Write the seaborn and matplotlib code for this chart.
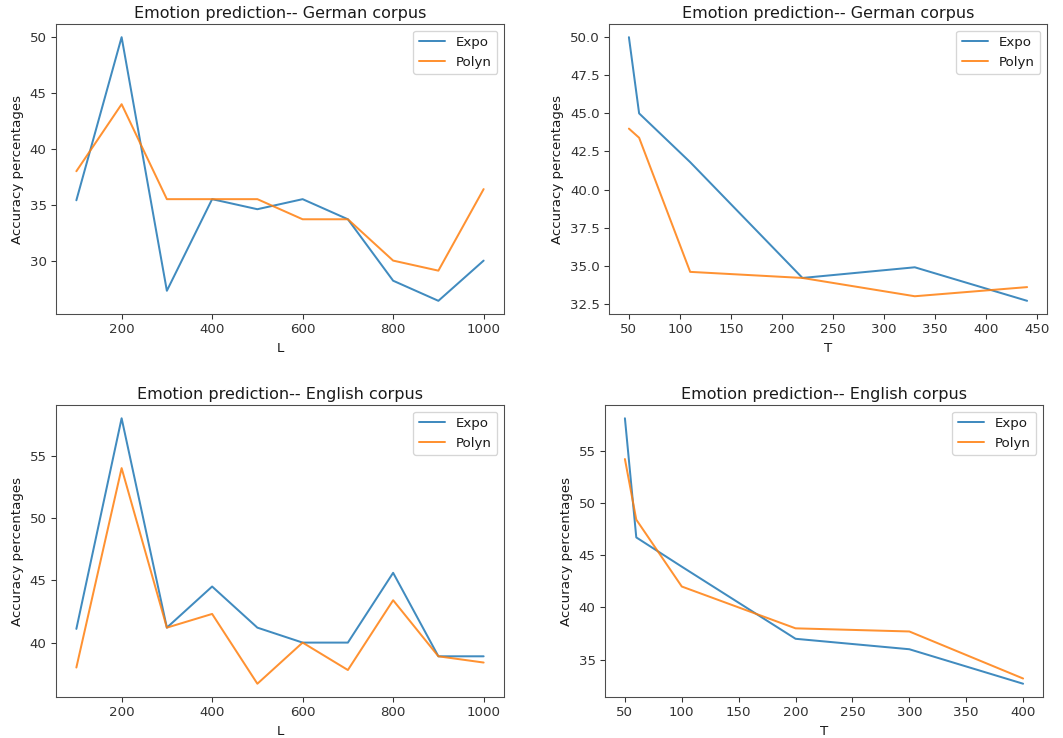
import matplotlib
matplotlib.use("Agg")
import matplotlib.pyplot as plt
import seaborn as sns
import pandas as pd

# ---- data ----
L_vals = [100, 200, 300, 400, 500, 600, 700, 800, 900, 1000]
de_L_expo = [35.4, 50.0, 27.3, 35.5, 34.6, 35.5, 33.7, 28.2, 26.4, 30.0]
de_L_polyn = [38.0, 44.0, 35.5, 35.5, 35.5, 33.7, 33.7, 30.0, 29.1, 36.4]

de_T_vals = [50, 60, 110, 220, 330, 440]
de_T_expo = [50.0, 45.0, 41.8, 34.2, 34.9, 32.7]
de_T_polyn = [44.0, 43.4, 34.6, 34.2, 33.0, 33.6]

en_L_expo = [41.1, 58.0, 41.2, 44.5, 41.2, 40.0, 40.0, 45.6, 38.9, 38.9]
en_L_polyn = [38.0, 54.0, 41.2, 42.3, 36.7, 40.0, 37.8, 43.4, 38.9, 38.4]

en_T_vals = [50, 60, 100, 200, 300, 400]
en_T_expo = [58.1, 46.7, 43.9, 37.0, 36.0, 32.7]
en_T_polyn = [54.2, 48.4, 42.0, 38.0, 37.7, 33.2]

titles = ["Emotion prediction-- German corpus", "Emotion prediction-- German corpus",
          "Emotion prediction-- English corpus", "Emotion prediction-- English corpus"]
xlabels = ["L", "T", "L", "T"]
ylabel = "Accuracy percentages"
series_names = ["Expo", "Polyn"]

panels = [
    (L_vals, de_L_expo, de_L_polyn),
    (de_T_vals, de_T_expo, de_T_polyn),
    (L_vals, en_L_expo, en_L_polyn),
    (en_T_vals, en_T_expo, en_T_polyn),
]

sns.set_style("ticks", {"axes.edgecolor": ".3", "text.color": ".1",
                        "xtick.color": ".2", "ytick.color": ".2",
                        "axes.labelcolor": ".1"})
plt.rcParams['font.family'] = ['DejaVu Sans']
plt.rcParams['axes.spines.top'] = True
plt.rcParams['axes.spines.right'] = True

DPI = 96
W, H = 1063, 738
fig = plt.figure(figsize=(W / DPI, H / DPI), dpi=DPI)

# axes boxes in pixels: left, top, right, bottom
boxes = [(56, 24, 504, 314), (609, 24, 1047, 314),
         (56, 405, 504, 697), (605, 405, 1043, 697)]
colors = ["#1f77b4", "#ff7f0e"]

for (x, e, p), (l, t, r, b), title, xl in zip(panels, boxes, titles, xlabels):
    ax = fig.add_axes([l / W, 1 - b / H, (r - l) / W, (b - t) / H])
    df = pd.DataFrame({"x": x + x, "acc": e + p,
                       "method": [series_names[0]] * len(x) + [series_names[1]] * len(x)})
    sns.lineplot(data=df, x="x", y="acc", hue="method", palette=colors,
                 ax=ax, alpha=0.85, linewidth=1.5)
    ax.set_title(title, fontsize=12, pad=4.5)
    ax.set_xlabel(xl, fontsize=10)
    ax.set_ylabel(ylabel, fontsize=10)
    ax.tick_params(labelsize=10)
    handles, labels = ax.get_legend_handles_labels()
    ax.legend(handles, labels, loc="upper right", frameon=True, fontsize=10,
              framealpha=0.8, edgecolor="0.8", fancybox=True)

fig.savefig("out.png", dpi=DPI)
